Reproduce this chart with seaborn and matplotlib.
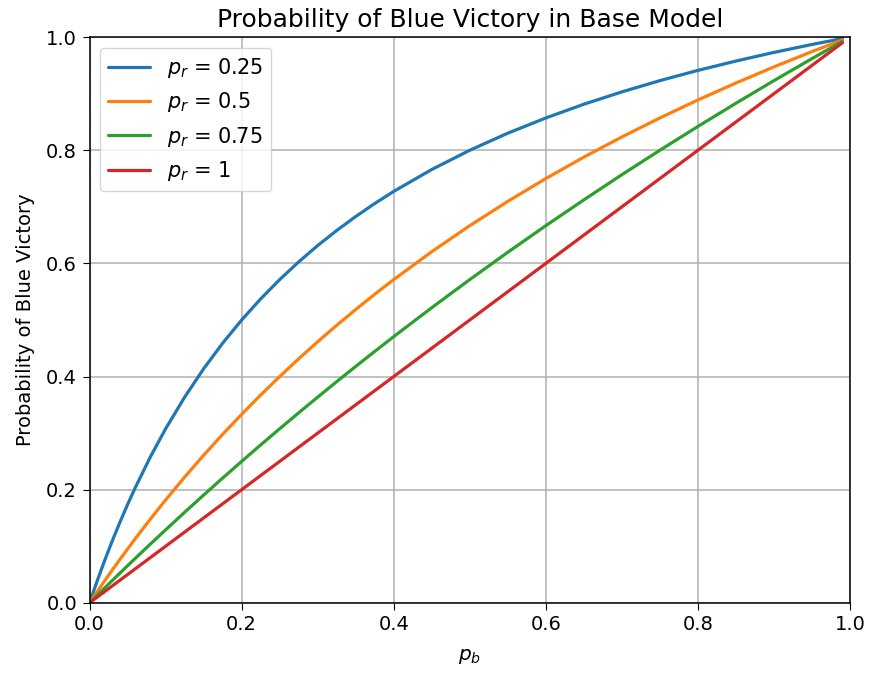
import numpy as np
import pandas as pd
import matplotlib
matplotlib.use("Agg")
import matplotlib.pyplot as plt
import seaborn as sns

# values
p_b = [0.0, 0.01, 0.02, 0.03, 0.04, 0.05, 0.06, 0.08, 0.1, 0.125, 0.15, 0.175,
       0.2, 0.225, 0.25, 0.275, 0.3, 0.325, 0.35, 0.375, 0.4, 0.45, 0.5,
       0.55, 0.6, 0.65, 0.7, 0.75, 0.8, 0.85, 0.9, 0.95, 0.99]
win_pr_025 = [0.0, 0.0388, 0.0755, 0.1101, 0.1429, 0.1739, 0.2034, 0.2581, 0.3077, 0.3636,
              0.4138, 0.4590, 0.5, 0.5373, 0.5714, 0.6027, 0.6316, 0.6582, 0.6829, 0.7059,
              0.7273, 0.7660, 0.8, 0.8302, 0.8571, 0.8814, 0.9032, 0.9231, 0.9412, 0.9577,
              0.9730, 0.9870, 0.9975]
win_pr_05 = [0.0, 0.0198, 0.0392, 0.0583, 0.0769, 0.0952, 0.1132, 0.1481, 0.1818, 0.2222,
             0.2609, 0.2979, 0.3333, 0.3673, 0.4, 0.4314, 0.4615, 0.4906, 0.5185, 0.5455,
             0.5714, 0.6207, 0.6667, 0.7097, 0.75, 0.7879, 0.8235, 0.8571, 0.8889, 0.9189,
             0.9474, 0.9744, 0.9950]
win_pr_075 = [0.0, 0.0133, 0.0265, 0.0396, 0.0526, 0.0656, 0.0784, 0.1039, 0.1290, 0.16,
              0.1905, 0.2205, 0.25, 0.2791, 0.3077, 0.3359, 0.3636, 0.3910, 0.4179, 0.4444,
              0.4706, 0.5217, 0.5714, 0.6197, 0.6667, 0.7123, 0.7568, 0.8, 0.8421, 0.8831,
              0.9231, 0.9620, 0.9925]
win_pr_1 = [0.0, 0.01, 0.02, 0.03, 0.04, 0.05, 0.06, 0.08, 0.1, 0.125, 0.15, 0.175,
            0.2, 0.225, 0.25, 0.275, 0.3, 0.325, 0.35, 0.375, 0.4, 0.45, 0.5,
            0.55, 0.6, 0.65, 0.7, 0.75, 0.8, 0.85, 0.9, 0.95, 0.99]
labels = [r'$p_r$ = 0.25', r'$p_r$ = 0.5', r'$p_r$ = 0.75', r'$p_r$ = 1']

series = [win_pr_025, win_pr_05, win_pr_075, win_pr_1]
df = pd.concat([pd.DataFrame({'p_b': p_b, 'win': s, 'label': lab})
                for s, lab in zip(series, labels)], ignore_index=True)

sns.set_style('ticks')
plt.rcParams['font.family'] = ['DejaVu Sans']
plt.rcParams['text.color'] = 'black'
plt.rcParams['axes.labelcolor'] = 'black'
plt.rcParams['xtick.color'] = 'black'
plt.rcParams['ytick.color'] = 'black'

fig, ax = plt.subplots(figsize=(8.7, 6.75), dpi=100)
fig.subplots_adjust(left=0.103, right=0.977, top=0.945, bottom=0.107)

colors = ['#1f77b4', '#ff7f0e', '#2ca02c', '#d62728']
sns.lineplot(data=df, x='p_b', y='win', hue='label', palette=colors,
             linewidth=2.3, ax=ax, sort=False)

ax.set_xlim(0, 1)
ax.set_ylim(0, 1)
ax.set_xticks(np.arange(0, 1.01, 0.2))
ax.set_yticks(np.arange(0, 1.01, 0.2))
ax.tick_params(labelsize=14, length=5, pad=4)
ax.grid(True, color='#b0b0b0', linewidth=1.1)
for sp in ax.spines.values():
    sp.set_color('black')
    sp.set_linewidth(1.1)

ax.set_xlabel(r'$p_b$', fontsize=14.5, labelpad=9)
ax.set_ylabel('Probability of Blue Victory', fontsize=14, labelpad=8)
ax.set_title('Probability of Blue Victory in Base Model', fontsize=18, pad=7)
ax.legend(title=None, fontsize=15, loc='upper left', framealpha=0.8,
          handlelength=2.0)

plt.savefig('out.png', dpi=100)
